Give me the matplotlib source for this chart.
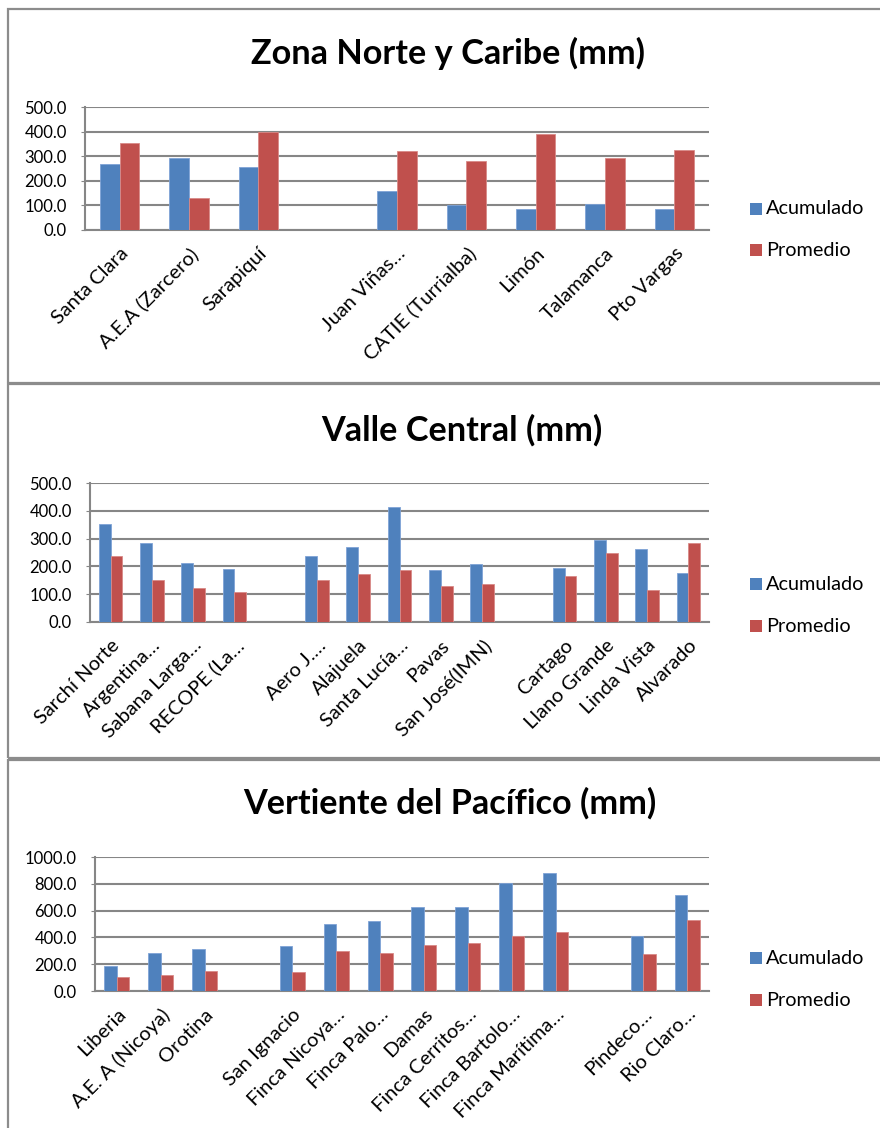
import numpy as np
import matplotlib
matplotlib.use("Agg")
import matplotlib.pyplot as plt
from matplotlib.patches import Rectangle
from matplotlib.ticker import FuncFormatter

plt.rcParams['font.family'] = ['Lato', 'DejaVu Sans']

W, H = 880, 1128

# --- Zona Norte y Caribe ---
norte_labels = ["Santa Clara", "A.E.A (Zarcero)", "Sarapiquí", "",
                "Juan Viñas…", "CATIE (Turrialba)", "Limón", "Talamanca", "Pto Vargas"]
norte_acum = [268, 291, 257, np.nan, 157, 101, 85, 104, 84]
norte_prom = [354, 132, 400, np.nan, 320, 280, 392, 293, 324]

# --- Valle Central ---
valle_labels = ["Sarchí Norte", "Argentina…", "Sabana Larga…", "RECOPE (La…", "",
                "Aero J.…", "Alajuela", "Santa Lucía…", "Pavas", "San José(IMN)", "",
                "Cartago", "Llano Grande", "Linda Vista", "Alvarado"]
valle_acum = [353, 283, 212, 192, np.nan, 236, 268, 413, 187, 207, np.nan, 194, 294, 264, 178]
valle_prom = [236, 152, 121, 107, np.nan, 150, 171, 187, 129, 137, np.nan, 166, 248, 116, 284]

# --- Vertiente del Pacífico ---
pacif_labels = ["Liberia", "A.E. A (Nicoya)", "Orotina", "", "San Ignacio",
                "Finca Nicoya…", "Finca Palo…", "Damas", "Finca Cerritos…",
                "Finca Bartolo…", "Finca Marítima…", "", "Pindeco…", "Rio Claro…"]
pacif_acum = [184, 284, 316, np.nan, 338, 500, 525, 624, 630, 806, 878, np.nan, 408, 719]
pacif_prom = [102, 117, 149, np.nan, 144, 296, 281, 346, 356, 413, 438, np.nan, 279, 533]

series_names = ["Acumulado", "Promedio"]
BLUE = "#4F81BD"
RED = "#C0504D"
GRID = "#868686"
BORDER = "#8C8C8C"


def rect(x0, y0, x1, y1):
    """Pixel box (top-left origin) to figure fraction [l, b, w, h]."""
    return [x0 / W, 1 - y1 / H, (x1 - x0) / W, (y1 - y0) / H]


fig = plt.figure(figsize=(W / 100, H / 100), dpi=100)
fig.patch.set_facecolor("white")

# chart frames (right side runs off the page)
for (y0, y1) in [(9, 383), (384, 758), (760, 1140)]:
    fig.patches.append(Rectangle((8 / W, 1 - y1 / H), 1.0, (y1 - y0) / H,
                                 transform=fig.transFigure, fill=False,
                                 edgecolor=BORDER, linewidth=1.6, zorder=0))

panels = [
    dict(title="Zona Norte y Caribe (mm)", labels=norte_labels, a=norte_acum, p=norte_prom,
         box=(85, 107, 709, 230), ymax=500, step=100, title_xy=(448, 53), leg_y=(209, 250)),
    dict(title="Valle Central (mm)", labels=valle_labels, a=valle_acum, p=valle_prom,
         box=(90, 483, 709, 622), ymax=500, step=100, title_xy=(462, 430), leg_y=(584, 626)),
    dict(title="Vertiente del Pacífico (mm)", labels=pacif_labels, a=pacif_acum, p=pacif_prom,
         box=(95, 857, 709, 991), ymax=1000, step=200, title_xy=(450, 803), leg_y=(958, 1000)),
]

bw = 1 / 3.5
for pn in panels:
    ax = fig.add_axes(rect(*pn["box"]))
    n = len(pn["labels"])
    x = np.arange(n)
    ax.bar(x - bw / 2, pn["a"], width=bw, color=BLUE, edgecolor="#7FA3D6",
           linewidth=0.6, zorder=3)
    ax.bar(x + bw / 2, pn["p"], width=bw, color=RED, edgecolor="#D98A88",
           linewidth=0.6, zorder=3)
    ax.set_xlim(-0.5, n - 0.5)
    ax.set_ylim(0, pn["ymax"])
    ax.set_yticks(np.arange(0, pn["ymax"] + 1, pn["step"]))
    ax.yaxis.set_major_formatter(FuncFormatter(lambda v, _: f"{v:.1f}"))
    ax.grid(axis="y", color=GRID, linewidth=1.5, zorder=0)
    ax.set_axisbelow(True)
    for s in ["top", "right"]:
        ax.spines[s].set_visible(False)
    for s in ["left", "bottom"]:
        ax.spines[s].set_color(GRID)
        ax.spines[s].set_linewidth(1.5)
    ax.tick_params(axis="y", length=3, color=GRID, labelsize=12, pad=10)
    ax.tick_params(axis="x", length=0, pad=10.5)
    ax.set_xticks(x)
    ax.set_xticklabels(pn["labels"], rotation=45, ha="right", va="top",
                       rotation_mode="anchor", fontsize=14.5)

    tx, ty = pn["title_xy"]
    fig.text(tx / W, 1 - ty / H, pn["title"], ha="center", va="center",
             fontsize=24.7, fontweight="bold")

    # legend: square swatch + label
    for yy, name, col in zip(pn["leg_y"], series_names, [BLUE, RED]):
        fig.patches.append(Rectangle((750 / W, 1 - (yy + 6) / H), 12 / W, 12 / H,
                                     transform=fig.transFigure, facecolor=col,
                                     edgecolor="none"))
        fig.text(766 / W, 1 - yy / H, name, ha="left", va="center", fontsize=14.3)

fig.savefig("out.png", dpi=100, facecolor="white")
